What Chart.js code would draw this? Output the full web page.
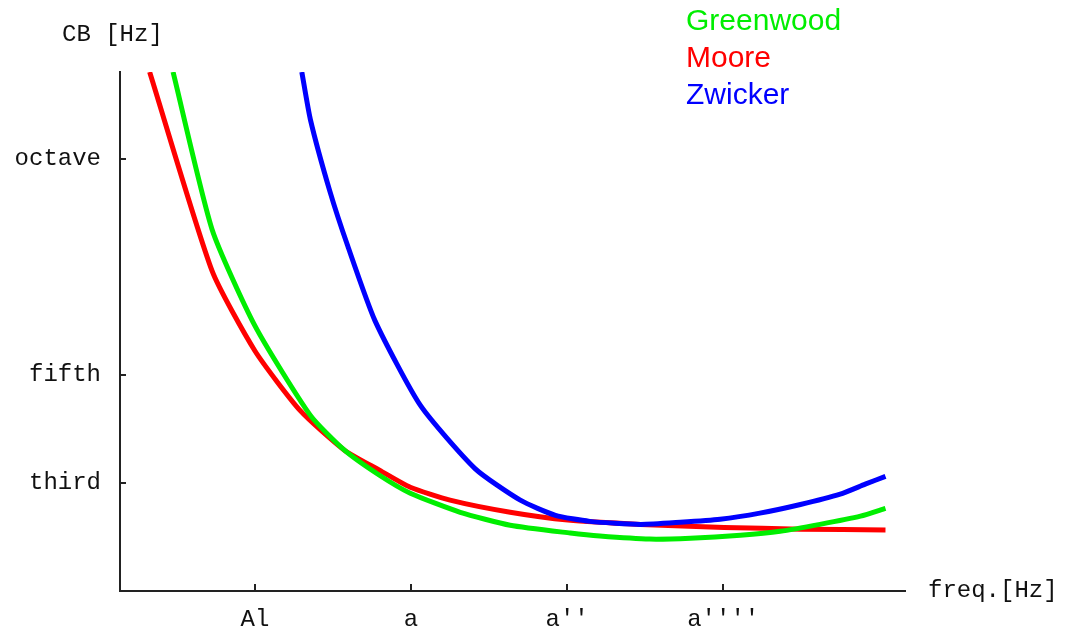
<!DOCTYPE html>
<html lang="en">
<head>
    <meta charset="UTF-8">
    <title>Critical Bandwidth</title>
    <script src="https://cdn.jsdelivr.net/npm/chart.js"></script>
    <style>
        html, body { margin: 0; padding: 0; background: #fff; }
        #wrap { width: 1072px; height: 633px; }
    </style>
</head>
<body>
    <div id="wrap"><canvas id="cb-chart" width="1072" height="633"></canvas></div>

    <script>
        // x: octaves above A1 (55 Hz), y: bandwidth as ratio - 1 (third .25, fifth .5, octave 1)
        const xTickValues = [0, 2, 4, 6];
        const xTickLabels = ['Al', 'a', "a''", "a''''"];
        const yTickValues = [0.25, 0.5, 1];
        const yTickLabels = ['third', 'fifth', 'octave'];

        const seriesNames = ['Greenwood', 'Moore', 'Zwicker'];
        const seriesColors = ['#00ee00', '#ff0000', '#0000ff'];

        const greenwoodX = [-1.05, -0.55, 0, 0.71, 1.15, 1.60, 1.99, 2.63, 3.27, 4.04, 4.42, 5.06, 5.58, 6.22, 6.73, 7.24, 7.76, 8.08];
        const greenwoodY = [1.2, 0.836, 0.613, 0.406, 0.325, 0.267, 0.226, 0.182, 0.152, 0.134, 0.127, 0.120, 0.122, 0.129, 0.138, 0.154, 0.173, 0.191];

        const mooreX = [-1.35, -0.55, 0, 0.58, 1.15, 1.60, 1.99, 2.50, 3.27, 4.01, 4.94, 6.01, 6.99, 8.08];
        const mooreY = [1.2, 0.740, 0.555, 0.417, 0.325, 0.279, 0.240, 0.210, 0.182, 0.164, 0.154, 0.147, 0.143, 0.141];

        const zwickerX = [0.60, 0.71, 0.96, 1.19, 1.54, 2.12, 2.82, 3.40, 3.85, 4.29, 4.94, 5.45, 5.96, 6.47, 6.99, 7.50, 7.82, 8.08];
        const zwickerY = [1.2, 1.09, 0.924, 0.797, 0.624, 0.429, 0.283, 0.210, 0.175, 0.161, 0.154, 0.159, 0.166, 0.180, 0.200, 0.224, 0.247, 0.265];

        function toPoints(xs, ys) {
            return xs.map((x, i) => ({ x: x, y: ys[i] }));
        }

        const monoFont = '"Liberation Mono", "Courier New", monospace';

        // small inward tick marks, axis titles and the coloured text legend
        const extrasPlugin = {
            id: 'extras',
            afterDraw(chart) {
                const ctx = chart.ctx;
                const xs = chart.scales.x, ys = chart.scales.y;
                const area = chart.chartArea;
                ctx.save();
                ctx.strokeStyle = '#222';
                ctx.lineWidth = 2;
                xTickValues.forEach(v => {
                    const px = Math.round(xs.getPixelForValue(v));
                    ctx.beginPath();
                    ctx.moveTo(px, area.bottom);
                    ctx.lineTo(px, area.bottom - 7);
                    ctx.stroke();
                });
                yTickValues.forEach(v => {
                    const py = Math.round(ys.getPixelForValue(v));
                    ctx.beginPath();
                    ctx.moveTo(area.left, py);
                    ctx.lineTo(area.left + 6, py);
                    ctx.stroke();
                });

                ctx.fillStyle = '#111';
                ctx.font = '24px ' + monoFont;
                ctx.textBaseline = 'middle';
                ctx.textAlign = 'left';
                ctx.fillText('CB [Hz]', 62, 35);
                ctx.fillText('freq.[Hz]', 928, 591);

                ctx.font = '30px "Liberation Sans", Arial, sans-serif';
                seriesNames.forEach((name, i) => {
                    ctx.fillStyle = seriesColors[i];
                    ctx.fillText(name, 686, 22 + i * 37);
                });
                ctx.restore();
            }
        };

        const ctx = document.getElementById('cb-chart').getContext('2d');
        new Chart(ctx, {
            type: 'line',
            data: {
                datasets: [
                    { label: seriesNames[0], data: toPoints(greenwoodX, greenwoodY), borderColor: seriesColors[0], order: 1 },
                    { label: seriesNames[1], data: toPoints(mooreX, mooreY), borderColor: seriesColors[1], order: 2 },
                    { label: seriesNames[2], data: toPoints(zwickerX, zwickerY), borderColor: seriesColors[2], order: 0 }
                ]
            },
            options: {
                responsive: false,
                animation: false,
                layout: { padding: { top: 72, right: 167, left: 0, bottom: 0 } },
                elements: {
                    line: { borderWidth: 5, tension: 0.2, fill: false, borderCapStyle: 'butt', borderJoinStyle: 'round' },
                    point: { radius: 0 }
                },
                plugins: {
                    legend: { display: false },
                    tooltip: { enabled: false }
                },
                scales: {
                    x: {
                        type: 'linear',
                        min: -1.73,
                        max: 8.33,
                        afterBuildTicks: s => { s.ticks = xTickValues.map(v => ({ value: v })); },
                        afterFit: s => { s.height = 42; },
                        grid: { display: false, drawTicks: false },
                        border: { display: true, color: '#222', width: 2 },
                        ticks: {
                            font: { family: monoFont, size: 24 },
                            color: '#111',
                            padding: 14,
                            maxRotation: 0,
                            callback: v => xTickLabels[xTickValues.indexOf(v)]
                        }
                    },
                    y: {
                        type: 'linear',
                        min: 0,
                        max: 1.2,
                        afterBuildTicks: s => { s.ticks = yTickValues.map(v => ({ value: v })); },
                        afterFit: s => { s.width = 120; },
                        grid: { display: false, drawTicks: false },
                        border: { display: true, color: '#222', width: 2 },
                        ticks: {
                            font: { family: monoFont, size: 24 },
                            color: '#111',
                            padding: 19,
                            callback: v => yTickLabels[yTickValues.indexOf(v)]
                        }
                    }
                }
            },
            plugins: [extrasPlugin]
        });
    </script>
</body>
</html>
